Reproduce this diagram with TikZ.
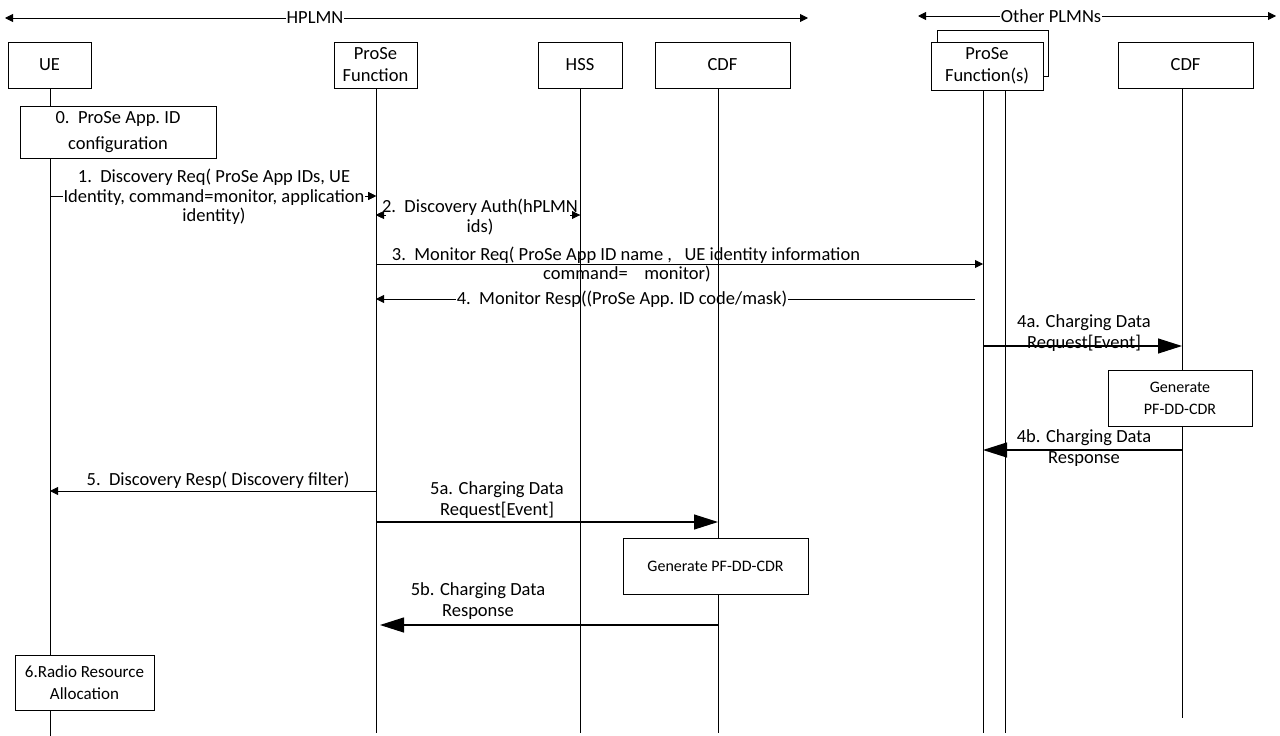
\documentclass[tikz,border=0pt]{standalone}
\usepackage{fontspec}
\setmainfont{Carlito}
\usetikzlibrary{arrows.meta}
\begin{document}
\begin{tikzpicture}[x=1pt,y=-1pt,
  every node/.style={font=\fontsize{18.5}{19.5}\selectfont},
  ent/.style={draw, line width=1pt, fill=white, align=center, inner sep=1pt, minimum height=46pt},
  actbox/.style={draw, line width=1pt, fill=white, align=center, inner sep=1pt},
  life/.style={line width=0.9pt},
  smallmsg/.style={line width=0.9pt, -{Triangle[length=8pt,width=8pt]}},
  bigmsg/.style={line width=1.2pt, -{Triangle[length=24pt,width=15pt]}},
  dblmsg/.style={line width=0.9pt, {Triangle[length=8pt,width=8pt]}-{Triangle[length=8pt,width=8pt]}},
  lbl/.style={align=center, inner sep=1pt},
  lblw/.style={align=center, inner sep=1pt, fill=white},
  twoline/.style={font=\fontsize{18.5}{21}\selectfont},
]
\useasboundingbox (0,0) rectangle (1280,736);

% region arrows
\coordinate (hl) at (5,18);
\coordinate (hr) at (808,18);
\coordinate (ol) at (918,16);
\coordinate (or) at (1276,16);
\draw[dblmsg] (hl) -- (hr);
\draw[dblmsg] (ol) -- (or);
\node[lblw, inner sep=1pt] (hplmn) at (315,18) {HPLMN};
\node[lblw, inner sep=1pt] (oplmn) at (1051,16) {Other PLMNs};

% lifeline coordinates
\coordinate (ueT) at (50,88);   \coordinate (ueB) at (50,736);
\coordinate (pfT) at (376,88);  \coordinate (pfB) at (376,733);
\coordinate (hsT) at (580,88);  \coordinate (hsB) at (580,733);
\coordinate (cdT) at (718,75);  \coordinate (cdB) at (718,733);
\coordinate (opAT) at (983,90); \coordinate (opAB) at (983,733);
\coordinate (opBT) at (1005,90);\coordinate (opBB) at (1005,733);
\coordinate (c2T) at (1182,88); \coordinate (c2B) at (1182,718);

% message points
\coordinate (m1a) at (50,196);  \coordinate (m1b) at (376,196);
\coordinate (m2a) at (376,215); \coordinate (m2b) at (580,215);
\coordinate (m3a) at (376,264); \coordinate (m3b) at (983,264);
\coordinate (m4a) at (975,299); \coordinate (m4b) at (376,299);
\coordinate (m4aa) at (983,346); \coordinate (m4ab) at (1182,346);
\coordinate (m4ba) at (1182,450); \coordinate (m4bb) at (983,450);
\coordinate (m5a) at (376,491); \coordinate (m5b) at (50,491);
\coordinate (m5aa) at (376,522); \coordinate (m5ab) at (718,522);
\coordinate (m5ba) at (718,625); \coordinate (m5bb) at (380,625);

% messages
\draw[smallmsg] (m1a) -- (m1b);
\draw[dblmsg] (m2a) -- (m2b);
\draw[smallmsg] (m3a) -- (m3b);
\draw[smallmsg] (m4a) -- (m4b);
\draw[bigmsg] (m4aa) -- (m4ab);
\draw[bigmsg] (m4ba) -- (m4bb);
\draw[smallmsg] (m5a) -- (m5b);
\draw[bigmsg] (m5aa) -- (m5ab);
\draw[bigmsg] (m5ba) -- (m5bb);

% labels
\node[lblw] (l1) at (214,197) {1.\ \ Discovery Req( ProSe App IDs, UE\\Identity, command=monitor, application\\identity)};
\node[lblw, anchor=north] (l2) at (480,198) {2.\ \ Discovery Auth(hPLMN\\ids)};
\node[lbl, anchor=south] (l3) at (626,265) {3.\ \ Monitor Req( ProSe App ID name ,\ \ \ UE identity information};
\node[lbl, anchor=north] (l3b) at (627,265) {command=\ \ \ \ monitor)};
\node[lblw] (l4) at (622,299) {4.\ \ Monitor Resp((ProSe App.\ ID code/mask)};
\node[lbl, twoline] (l4a) at (1084,333) {4a. Charging Data\\Request[Event]};
\node[lbl, twoline] (l4b) at (1084,448) {4b. Charging Data\\Response};
\node[lbl, anchor=south] (l5) at (218,490) {5.\ \ Discovery Resp( Discovery filter)};
\node[lbl, twoline] (l5a) at (497,500) {5a. Charging Data\\Request[Event]};
\node[lbl, twoline] (l5b) at (478,601) {5b. Charging Data\\Response};

% arrow tips redrawn over the white label backgrounds
\draw[smallmsg, shorten <=316pt] (m1a) -- (m1b);
\draw[smallmsg, shorten <=194pt] (m2a) -- (m2b);
\draw[smallmsg, shorten <=194pt] (m2b) -- (m2a);

% lifelines
\draw[life] (ueT) -- (ueB);
\draw[life] (pfT) -- (pfB);
\draw[life] (hsT) -- (hsB);
\draw[life] (cdT) -- (cdB);
\draw[life] (opAT) -- (opAB);
\draw[life] (opBT) -- (opBB);
\draw[life] (c2T) -- (c2B);

% entity boxes
\node[ent, minimum width=83pt] (ue) at (49.5,65) {UE};
\node[ent, minimum width=83pt, font=\fontsize{18.5}{22}\selectfont] (pf) at (375.5,65) {ProSe\\Function};
\node[ent, minimum width=84pt] (hss) at (580,65) {HSS};
\node[ent, minimum width=135pt] (cdf) at (722.5,65) {CDF};
\draw[line width=1pt, fill=white] (937,30) rectangle (1048,76);
\node[ent, minimum width=112pt, minimum height=48pt, font=\fontsize{18.5}{22}\selectfont] (opf) at (987,66) {ProSe\\Function(s)};
\node[ent, minimum width=135pt] (cdf2) at (1185.5,65) {CDF};

% action boxes
\node[actbox, minimum width=196pt, minimum height=52pt, font=\fontsize{18.5}{26}\selectfont] (b0) at (118,132) {0.\ \ ProSe App.\ ID\\configuration};
\node[actbox, minimum width=144pt, minimum height=56pt, font=\fontsize{16}{22}\selectfont] (g1) at (1180,398) {Generate\\PF-DD-CDR};
\node[actbox, minimum width=185pt, minimum height=56pt, font=\fontsize{16}{22}\selectfont] (g2) at (715.5,566) {Generate PF-DD-CDR};
\node[actbox, minimum width=139pt, minimum height=55pt, font=\fontsize{17}{22}\selectfont] (b6) at (84.5,682.5) {6.Radio Resource\\Allocation};
\end{tikzpicture}
\end{document}
